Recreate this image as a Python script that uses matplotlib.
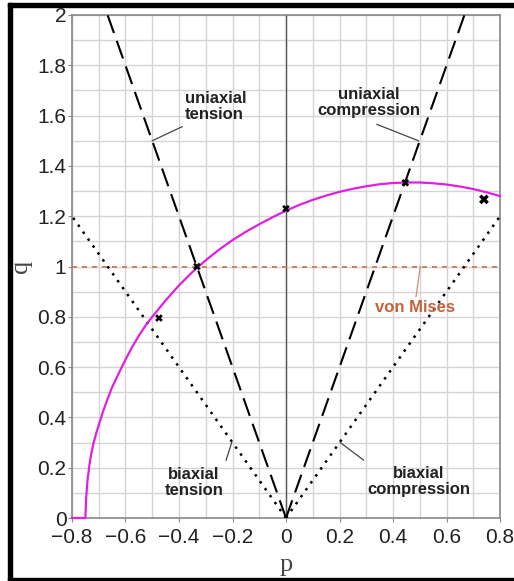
import matplotlib
matplotlib.use("Agg")
import matplotlib.pyplot as plt
from matplotlib.patches import Rectangle
import numpy as np

# straight boundary lines, given by their end points (p, q)
uniax_tension_p = [0.0, -0.667]
uniax_tension_q = [0.0, 2.0]
uniax_comp_p = [0.0, 0.667]
uniax_comp_q = [0.0, 2.0]
biax_tension_p = [0.0, -0.8]
biax_tension_q = [0.0, 1.2]
biax_comp_p = [0.0, 0.8]
biax_comp_q = [0.0, 1.2]
von_mises_p = [-0.8, 0.8]
von_mises_q = [1.0, 1.0]

# magenta yield curve
curve_p = [-0.80, -0.75, -0.747, -0.742, -0.735, -0.728, -0.72, -0.71, -0.70, -0.685,
           -0.67, -0.65, -0.63, -0.60, -0.575, -0.55, -0.525,
           -0.50, -0.45, -0.40, -0.35, -0.30, -0.25, -0.20, -0.15, -0.10, -0.05,
           0.00, 0.05, 0.10, 0.15, 0.20, 0.25, 0.30, 0.35, 0.40, 0.45,
           0.50, 0.55, 0.60, 0.65, 0.70, 0.75, 0.80]
curve_q = [0.00, 0.00, 0.08, 0.15, 0.21, 0.255, 0.295, 0.335, 0.37, 0.42,
           0.465, 0.52, 0.565, 0.63, 0.68, 0.725, 0.765,
           0.80, 0.865, 0.925, 0.978, 1.025, 1.067, 1.105, 1.138, 1.168, 1.196,
           1.222, 1.245, 1.265, 1.282, 1.297, 1.309, 1.319, 1.327, 1.332, 1.334,
           1.334, 1.331, 1.326, 1.318, 1.308, 1.295, 1.28]

# test points
pts_p = [-0.475, -0.333, 0.0, 0.446, 0.74]
pts_q = [0.795, 1.0, 1.23, 1.333, 1.267]
pts_size = [30, 30, 30, 30, 50]

xticks = [-0.8, -0.6, -0.4, -0.2, 0, 0.2, 0.4, 0.6, 0.8]
xticklabels = ["\u22120.8", "\u22120.6", "\u22120.4", "\u22120.2", "0", "0.2", "0.4", "0.6", "0.8"]
yticks = [0, 0.2, 0.4, 0.6, 0.8, 1, 1.2, 1.4, 1.6, 1.8, 2]
yticklabels = ["0", "0.2", "0.4", "0.6", "0.8", "1", "1.2", "1.4", "1.6", "1.8", "2"]

W, H = 514, 581
fig = plt.figure(figsize=(W / 100, H / 100), dpi=100)
fig.patch.set_facecolor("white")

# axes area in pixels: x 72..500, y 15..518 (from top)
ax = fig.add_axes([72 / W, (H - 518) / H, (500 - 72) / W, (518 - 15) / H])
ax.set_xlim(-0.8, 0.8)
ax.set_ylim(0, 2)

ax.set_xticks(np.arange(-0.8, 0.81, 0.1), minor=True)
ax.set_yticks(np.arange(0, 2.01, 0.1), minor=True)
ax.grid(which="both", color="#d4d4d4", lw=1.0, zorder=0)
ax.set_axisbelow(True)

ax.set_xticks(xticks)
ax.set_xticklabels(xticklabels)
ax.set_yticks(yticks)
ax.set_yticklabels(yticklabels)
ax.tick_params(which="minor", length=0)
ax.tick_params(which="major", length=3, color="#888888", labelcolor="#222222",
               labelsize=15)
ax.tick_params(axis="y", pad=1)
ax.tick_params(axis="x", pad=4)
for lab in ax.get_xticklabels() + ax.get_yticklabels():
    lab.set_family("Liberation Sans")
for s in ax.spines.values():
    s.set_color("#888888")
    s.set_linewidth(1.2)

# vertical axis at p = 0
ax.axvline(0, color="#555555", lw=1.0, zorder=1)

ax.plot(von_mises_p, von_mises_q, color="#c87352", lw=1.2, dashes=(3, 3), zorder=2)
ax.plot(uniax_tension_p, uniax_tension_q, color="black", lw=1.5, dashes=(9, 4), zorder=3)
ax.plot(uniax_comp_p, uniax_comp_q, color="black", lw=1.5, dashes=(9, 4), zorder=3)
ax.plot(biax_tension_p, biax_tension_q, color="black", lw=1.8, dashes=(1, 2.4), zorder=3)
ax.plot(biax_comp_p, biax_comp_q, color="black", lw=1.8, dashes=(1, 2.4), zorder=3)
ax.plot(curve_p, curve_q, color="#e020e0", lw=1.6, zorder=4, clip_on=False)
ax.scatter(pts_p, pts_q, s=pts_size, marker="X", color="black", linewidths=0, zorder=5)

# labels with leader lines
lead = dict(color="#444444", lw=0.9, zorder=3)
bold = dict(fontsize=12, fontweight="bold", color="#222222", family="Liberation Sans",
            linespacing=1.1)

ax.plot([-0.5, -0.388], [1.5, 1.556], **lead)
ax.text(-0.378, 1.635, "uniaxial\ntension", ha="left", va="center", **bold)

ax.plot([0.495, 0.34], [1.5, 1.565], **lead)
ax.text(0.311, 1.652, "uniaxial\ncompression", ha="center", va="center", **bold)

ax.plot([-0.203, -0.224], [0.3, 0.23], **lead)
ax.text(-0.344, 0.14, "biaxial\ntension", ha="center", va="center", **bold)

ax.plot([0.203, 0.29], [0.3, 0.23], **lead)
ax.text(0.495, 0.144, "biaxial\ncompression", ha="center", va="center", **bold)

ax.plot([0.502, 0.486], [1.0, 0.88], color="#d09070", lw=0.9, zorder=3)
ax.text(0.482, 0.835, "von Mises", ha="center", va="center", fontsize=12,
        fontweight="bold", color="#c4623c", family="Liberation Sans")

ax.set_xlabel("p", family="Liberation Serif", fontsize=19, color="#444444", labelpad=5)
ax.set_ylabel("q", family="Liberation Serif", fontsize=19, color="#444444", labelpad=4)

# black frame around the picture (top, left, bottom)
def px_rect(x0, y0, x1, y1):
    fig.patches.append(Rectangle((x0 / W, 1 - y1 / H), (x1 - x0) / W, (y1 - y0) / H,
                                 transform=fig.transFigure, color="black", zorder=10))

px_rect(8, 3, W, 7)
px_rect(8, 3, 12, 580)
px_rect(8, 578, W, 580)

fig.savefig("out.png", dpi=100)
